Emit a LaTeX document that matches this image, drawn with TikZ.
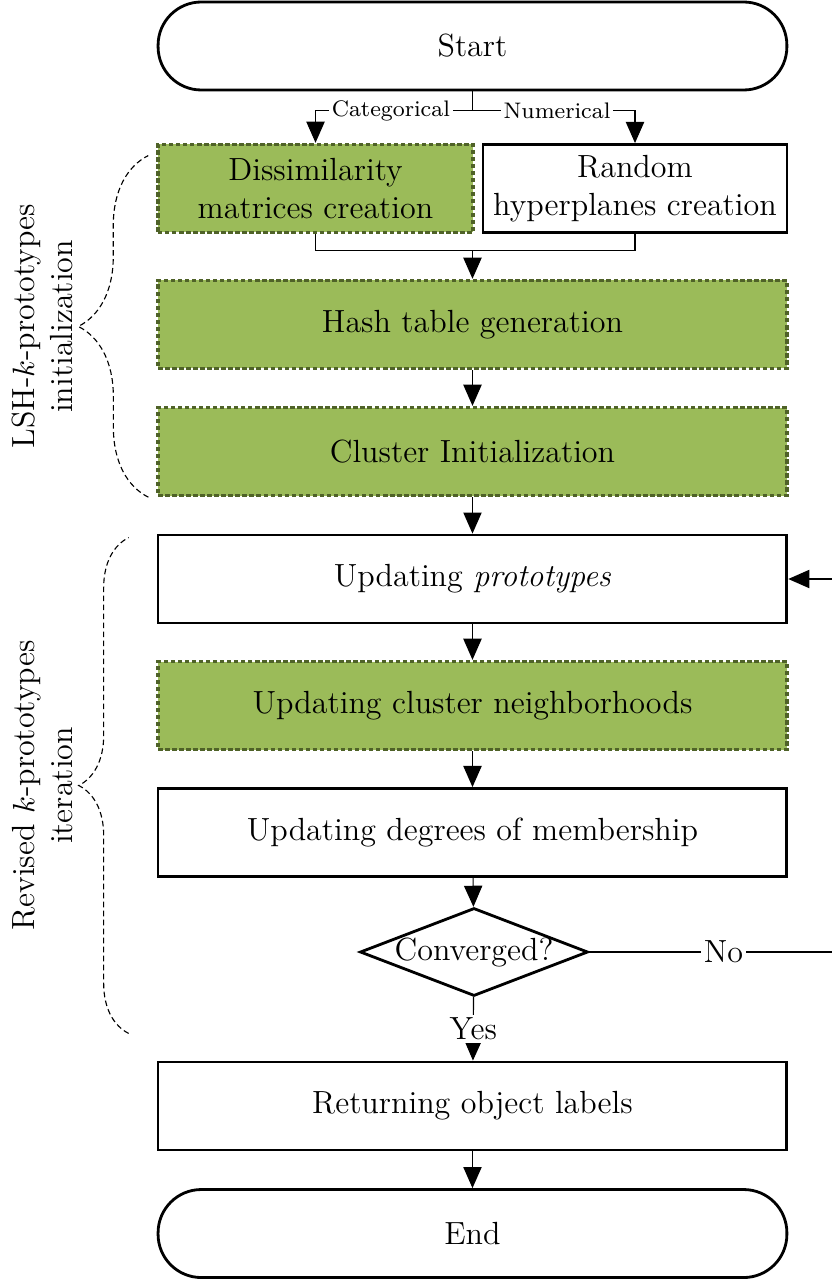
\documentclass[tikz,border=0pt]{standalone}
\usepackage{amsmath,amssymb}
\usetikzlibrary{arrows.meta,shapes,positioning,decorations.pathreplacing}
\definecolor{lshgreen}{RGB}{155,187,89}
\definecolor{lshdark}{RGB}{79,98,40}

\begin{document}
\begin{tikzpicture}[font=\fontsize{11.4}{13.7}\selectfont,
        box/.style={draw, line width=1pt, minimum height=1.1cm, align=center, inner xsep=2pt},
        bigbox/.style={box, minimum width=7.86cm},
        greenbox/.style={draw=lshdark, fill=lshgreen, line width=1.2pt, dash pattern=on 1.6pt off 0.9pt},
        term/.style={bigbox, rounded corners=0.54cm},
        decision/.style={diamond, draw, line width=1pt, aspect=2.6, inner sep=0pt, minimum width=2.85cm, minimum height=1.1cm},
        arr/.style={-{Triangle[width=6.5pt,length=7.5pt]}},
        lbl/.style={fill=white, inner sep=1pt},
        brc/.style={dash pattern=on 2pt off 1.2pt, decorate}]
        \useasboundingbox (0,0) rectangle (10.3875,-16);

        % NODES
        \node[term] (start) at (5.906,-0.575) {Start};
        \node[box, greenbox, minimum width=3.94cm] (dis) at (3.944,-2.356) {Dissimilarity\\matrices creation};
        \node[box, minimum width=3.8cm] (rand) at (7.9375,-2.356) {Random\\hyperplanes creation};
        \node[bigbox, greenbox] (hash) at (5.906,-4.056) {Hash table generation};
        \node[bigbox, greenbox] (clus) at (5.906,-5.644) {Cluster Initialization};
        \node[bigbox] (proto) at (5.906,-7.2375) {Updating \textit{prototypes}};
        \node[bigbox, greenbox] (neigh) at (5.906,-8.819) {Updating cluster neighborhoods};
        \node[bigbox] (memb) at (5.906,-10.406) {Updating degrees of membership};
        \node[decision] (conv) at (5.925,-11.9) {\makebox[1.4cm]{Converged?}};
        \node[bigbox] (ret) at (5.906,-13.825) {Returning object labels};
        \node[term] (end) at (5.906,-15.419) {End};

        % Split and merge points
        \coordinate[below=0.24cm of start.south] (split);
        \coordinate[above=0.35cm of hash.north] (merge);

        % Connectors
        \draw (start.south) -- (split);
        \draw[arr] (split) -| node[lbl, pos=0.26, font=\footnotesize] {Categorical} (dis.north);
        \draw[arr] (split) -| node[lbl, pos=0.26, font=\footnotesize] {Numerical} (rand.north);
        \draw (dis.south) |- (merge) -| (rand.south);
        \draw[arr] (merge) -- (hash.north);
        \draw[arr] (hash) -- (clus);
        \draw[arr] (clus) -- (proto);
        \draw[arr] (proto) -- (neigh);
        \draw[arr] (neigh) -- (memb);
        \draw[arr] (memb) -- (conv);
        \draw[arr] (conv) -- node[lbl] {Yes} (ret);
        \draw[arr] (ret) -- (end);
        \draw[arr] (conv.east) -- node[lbl] {No} ++(3.35,0) |- (proto.east);

        % Braces
        \draw[brc, decoration={brace, amplitude=0.875cm}] ([xshift=-0.1cm]clus.south west) -- ([shift={(-0.1cm,-0.16cm)}]dis.north west)
            node[midway, xshift=-0.9cm, rotate=90, anchor=south, align=center, inner sep=1pt] {LSH-$k$-prototypes\\initialization};
        \draw[brc, decoration={brace, amplitude=0.625cm}] ([shift={(-0.35cm,0.34cm)}]ret.north west) -- ([shift={(-0.35cm,-0.05cm)}]proto.north west)
            node[midway, xshift=-0.65cm, rotate=90, anchor=south, align=center, inner sep=1pt] {Revised $k$-prototypes\\iteration};
\end{tikzpicture}
\end{document}
